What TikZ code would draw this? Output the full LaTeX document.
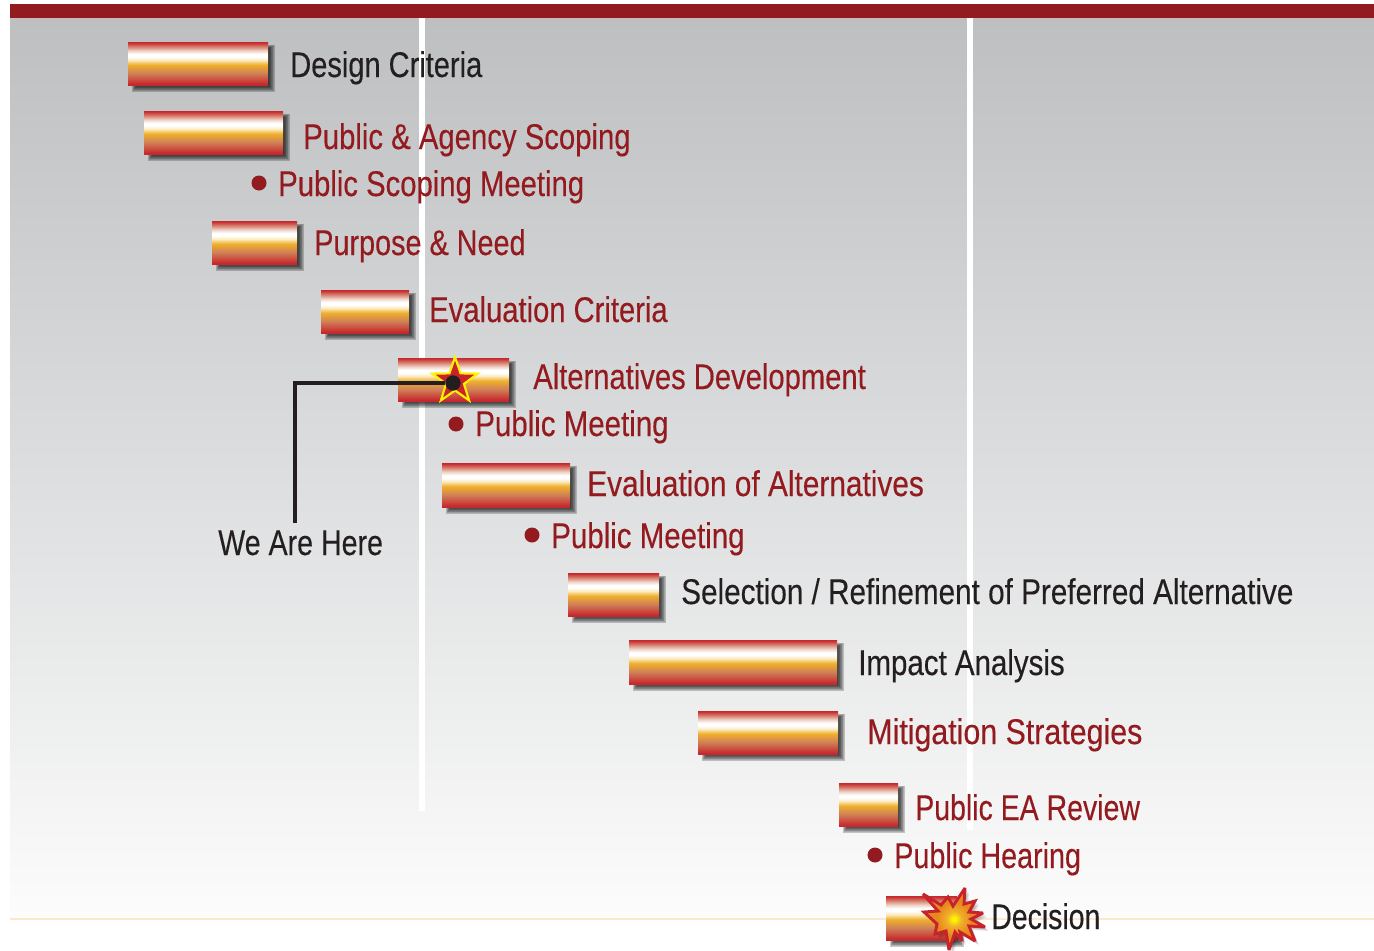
\documentclass[tikz,border=0pt]{standalone}
\usepackage{fontspec}
\setmainfont[FakeStretch=0.825,FakeBold=0.25]{Liberation Sans}
\usetikzlibrary{shapes.geometric,calc}
\definecolor{brickred}{HTML}{931A1E}
\definecolor{inkblack}{HTML}{231F20}
\definecolor{barred}{HTML}{C8282D}
\definecolor{barbrown}{HTML}{CF7F57}
\definecolor{barorange}{HTML}{EFB02B}
\definecolor{barcream}{HTML}{FBEBC0}
\definecolor{barsalmon}{HTML}{D88C78}
\definecolor{barpink}{HTML}{F0D0C5}
\definecolor{burstred}{HTML}{C8232A}
\definecolor{skytop}{HTML}{BDBFC1}
\definecolor{skybot}{HTML}{FCFCFC}
\definecolor{beigeline}{HTML}{FCE9CC}
\definecolor{burstdeep}{HTML}{E8871E}
\pgfdeclareverticalshading{barshade}{100bp}{
 color(0bp)=(barred); color(26bp)=(barred);
 color(38.5bp)=(barbrown); color(48.5bp)=(barorange);
 color(54bp)=(barcream); color(58bp)=(white); color(61bp)=(white);
 color(65bp)=(barpink); color(69bp)=(barsalmon); color(74.5bp)=(barred); color(100bp)=(barred)}
\pgfdeclareverticalshading{skyshade}{100bp}{
 color(0bp)=(skybot); color(25bp)=(skybot); color(75bp)=(skytop); color(100bp)=(skytop)}
\pgfdeclareradialshading{burstshade}{\pgfpoint{0bp}{0bp}}{
 color(0bp)=(yellow!90!orange); color(1.5bp)=(yellow!90!orange); color(6bp)=(barorange); color(14bp)=(burstdeep); color(50bp)=(burstdeep)}
\tikzset{
 x=0.75pt,y=-0.75pt,
 barbox/.style={rectangle,inner sep=0pt,outer sep=0pt,anchor=north west,shading=barshade},
 lab/.style={anchor=base west,inner sep=0pt,font=\fontsize{26.8}{30}\selectfont},
 labred/.style={lab,text=brickred},
 labdark/.style={lab,text=inkblack},
 bulletdot/.style={circle,fill=brickred,minimum size=11.25pt,inner sep=0pt},
 whiteline/.style={fill=white,draw=none},
}
\newcommand{\lw}[2]{\scalebox{#1}[1]{#2}}
\newcommand{\barshadow}[4]{%
 \foreach \g in {0,1,2,3,4,5,6,7,8,9,10,11}{
  \fill[black,opacity=0.11] ({#1+9-0.5*\g},{#2+7-0.4*\g}) rectangle ({#3+0.65*\g},{#4+0.65*\g});
 }}
\newcommand{\ganttbar}[5]{%
 \barshadow{#2}{#3}{#4}{#5}
 \node[barbox,minimum width={(#4-#2)*0.75pt},minimum height={(#5-#3)*0.75pt}] (#1) at (#2,#3) {};
}
\newcommand{\burstoutline}{(923,894) -- (941,905) -- (948,897) -- (953,906) -- (965,888) -- (964,904)
 -- (975,901) -- (969,912) -- (983,913) -- (971,919) -- (985,927) -- (969,926)
 -- (975,941) -- (960,932) -- (962,941) -- (955,932) -- (949,950) -- (946,931)
 -- (935,934) -- (937,924) -- (924,912) -- (938,911) -- cycle}
\begin{document}
\begin{tikzpicture}
\useasboundingbox (0,0) rectangle (1374,950);
\fill[white] (0,0) rectangle (1374,950);
\shade[shading=skyshade] (10,18) rectangle (1374,919);
\fill[brickred] (10,4) rectangle (1374,18);
\fill[whiteline] (419,18) rectangle (425,811);
\fill[whiteline] (967,18) rectangle (973,830);
\draw[color=beigeline,line width=1.4pt] (10,919) -- (1374,919);

\ganttbar{b1}{128}{42}{268}{85}
\ganttbar{b2}{144}{111}{283}{154}
\ganttbar{b3}{212}{221}{297}{264}
\ganttbar{b4}{321}{290}{409}{333}
\ganttbar{b5}{398}{358}{509}{401}
\ganttbar{b6}{442}{463}{570}{507}
\ganttbar{b7}{568}{573}{659}{616}
\ganttbar{b8}{629}{640}{837}{684}
\ganttbar{b9}{698}{711}{838}{754}
\ganttbar{b10}{839}{783}{898}{826}
\ganttbar{b11}{886}{896}{957}{940}

\node[labdark] (t1) at (290,77) {\lw{.985}{Design Criteria}};
\node[labred] (t2) at (303,149) {\lw{.994}{Public \& Agency Scoping}};
\node[bulletdot] (d2) at (259,183) {};
\node[labred] (t2a) at (278,196) {\lw{.993}{Public Scoping Meeting}};
\node[labred] (t3) at (314,255) {\lw{.977}{Purpose \& Need}};
\node[labred] (t4) at (429,322) {\lw{.99}{Evaluation Criteria}};
\node[labred] (t5) at (533,389) {\lw{.99}{Alternatives Development}};
\node[bulletdot] (d5) at (456,424) {};
\node[labred] (t5a) at (475,436) {Public Meeting};
\node[labred] (t6) at (587,496) {\lw{1.012}{Evaluation of Alternatives}};
\node[bulletdot] (d6) at (532,535) {};
\node[labred] (t6a) at (551,548) {Public Meeting};
\node[labdark] (t7) at (681,604) {\lw{1.007}{Selection / Refinement of Preferred Alternative}};
\node[labdark] (t8) at (858,675) {Impact Analysis};
\node[labred] (t9) at (867,744) {\lw{1.03}{Mitigation Strategies}};
\node[labred] (t10) at (915,820) {\lw{.966}{Public EA Review}};
\node[bulletdot] (d10) at (875,855) {};
\node[labred] (t10a) at (894,868) {\lw{.974}{Public Hearing}};
\node[labdark] (t11) at (991,929) {\lw{.965}{Decision}};
\node[labdark] (here) at (218,555) {\lw{.97}{We Are Here}};

% star and dot
\node[star,star points=5,star point ratio=2.55,minimum size=36pt,inner sep=0pt,draw=yellow,line width=1.6pt,fill=burstred] (star) at (455,381) {};
\node[circle,fill=inkblack,minimum size=11.5pt,inner sep=0pt] (herept) at (453,383) {};
\coordinate (foot) at (295,523);
\draw[inkblack,line width=2.5pt,line join=miter] (foot) |- (herept);

% burst
\foreach \g in {1,2,3,4}{
 \begin{scope}[shift={(\g,\g)}]
  \fill[black,opacity=0.1] \burstoutline;
 \end{scope}
}
\path[draw=burstred,line width=2.2pt,line join=miter,miter limit=3,shading=burstshade] \burstoutline;
\end{tikzpicture}
\end{document}
